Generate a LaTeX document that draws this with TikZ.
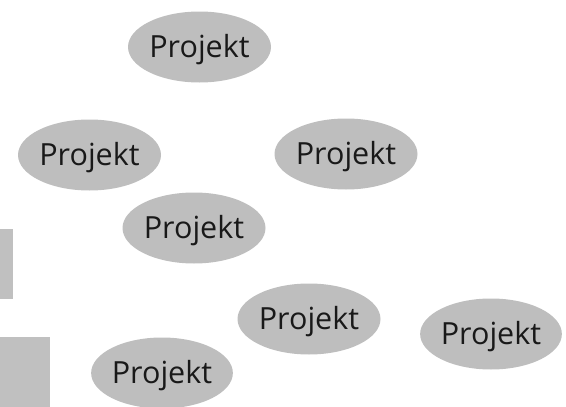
\documentclass[tikz,border=0pt]{standalone}
\usepackage{fontspec}
\setmainfont{Open Sans}
\usetikzlibrary{shapes.geometric}
\definecolor{bubble}{RGB}{190,190,190}
\definecolor{blockgray}{RGB}{192,192,192}
\definecolor{ink}{RGB}{25,25,25}
\tikzset{
  projekt/.style={ellipse, fill=bubble, draw=none, inner sep=0pt,
    minimum width=143pt, minimum height=71pt,
    text height=21.5pt, text depth=0pt,
    text=ink, font=\fontsize{30.5}{33}\selectfont},
  block/.style={fill=blockgray, draw=none}
}
\begin{document}
\begin{tikzpicture}[x=1pt, y=-1pt]
  \useasboundingbox (0,0) rectangle (566,407);
  % partial blocks at the left border
  \fill[block] (0,229) rectangle (13,299);
  \fill[block] (0,337) rectangle (50,407);
  % project bubbles
  \node[projekt] (p1) at (199.5,47) {Projekt};
  \node[projekt] (p2) at (89.5,155) {Projekt};
  \node[projekt] (p3) at (346,154) {Projekt};
  \node[projekt] (p4) at (194,228) {Projekt};
  \node[projekt] (p5) at (309,319) {Projekt};
  \node[projekt, minimum width=134pt] (p6) at (491,334) {Projekt};
  \node[projekt, minimum width=140pt] (p7) at (162,373) {Projekt};
\end{tikzpicture}
\end{document}
